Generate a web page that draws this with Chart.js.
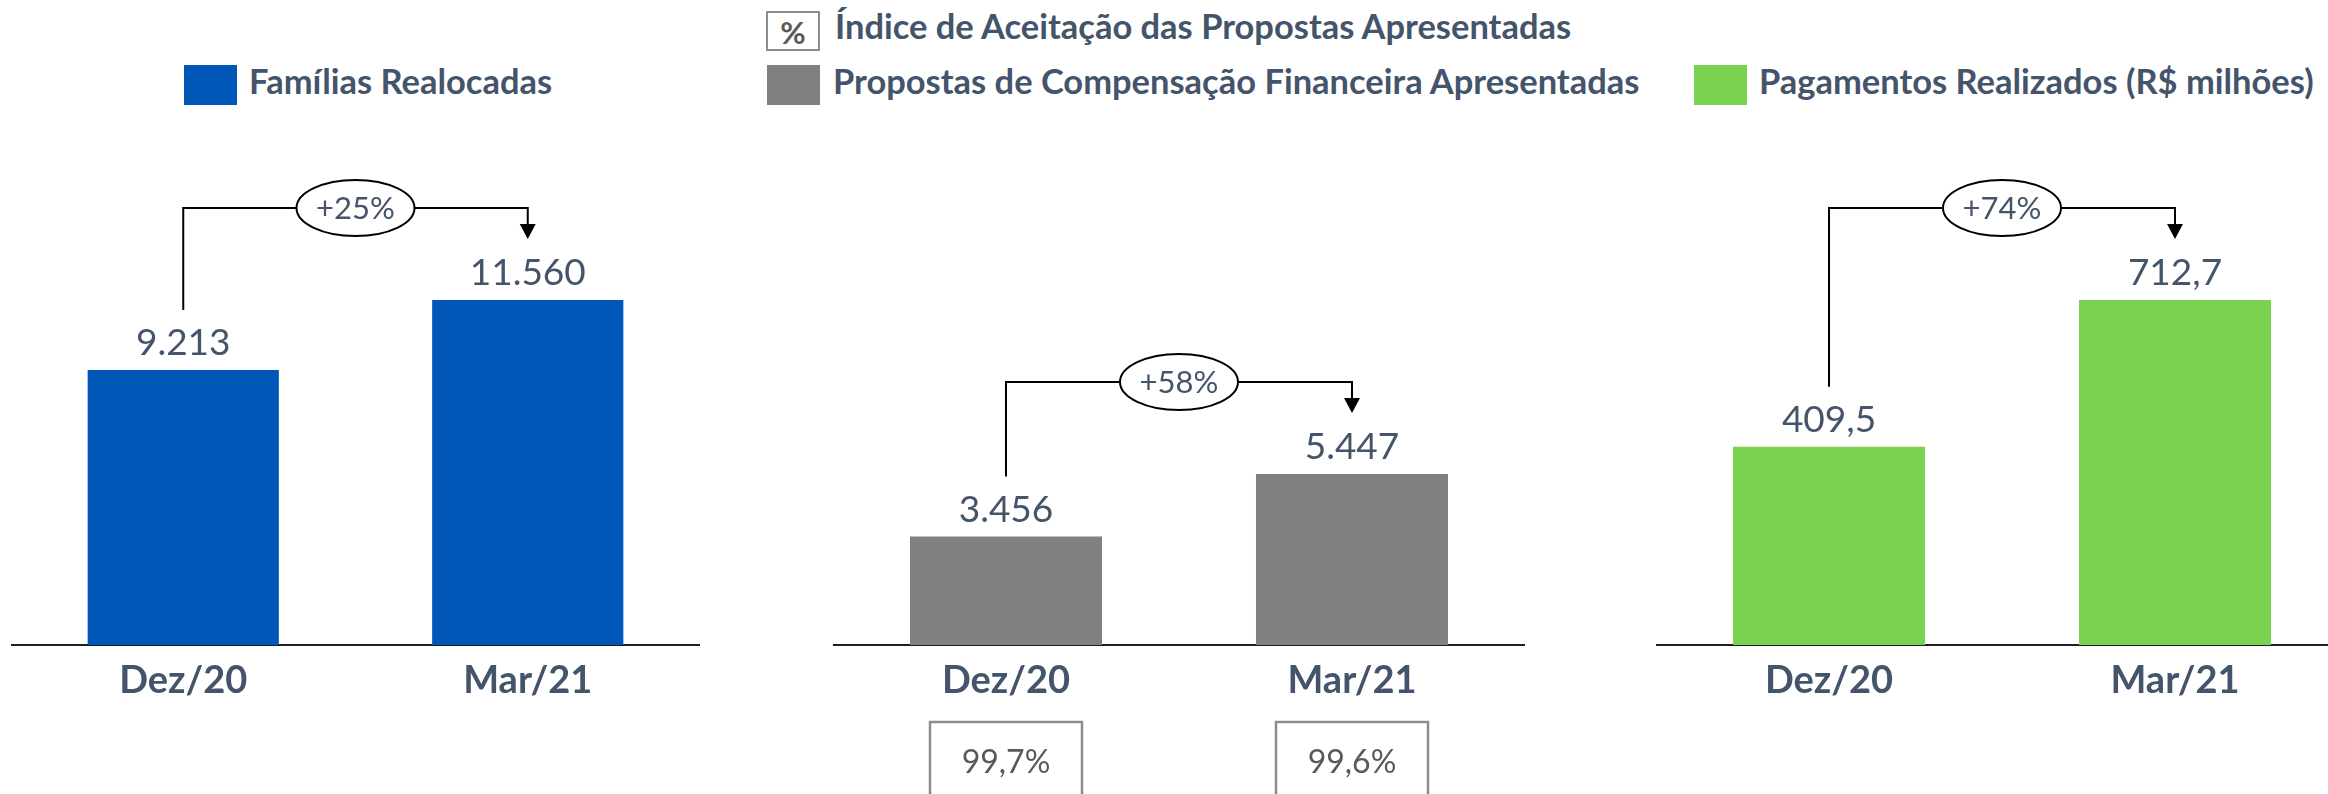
<!DOCTYPE html>
<html><head><meta charset="utf-8">
<script src="https://cdn.jsdelivr.net/npm/chart.js@4.4.1/dist/chart.umd.min.js"></script>
<style>
html,body{margin:0;padding:0;background:#fff;width:2328px;height:794px;overflow:hidden;position:relative;font-family:Lato,sans-serif;}
canvas{position:absolute;top:0;}
.sw{position:absolute;}
.lg{position:absolute;white-space:nowrap;font-weight:700;color:#44546A;line-height:1.2;font-family:Lato,sans-serif;}
.pct{position:absolute;left:766px;top:11px;width:50px;height:36px;border:2px solid #8c8c8c;color:#595959;font:700 31px Lato,sans-serif;text-align:center;line-height:38px;}
</style></head><body>
<div class="pct">%</div>
<div class="sw" style="left:184px;top:65px;width:53px;height:40px;background:#0057B8"></div>
<div class="sw" style="left:767px;top:65px;width:53px;height:40px;background:#808080"></div>
<div class="sw" style="left:1694px;top:65px;width:53px;height:40px;background:#79D351"></div>
<div class="lg" id="lgIdx">Índice de Aceitação das Propostas Apresentadas</div>
<div class="lg" id="lgFam">Famílias Realocadas</div>
<div class="lg" id="lgProp">Propostas de Compensação Financeira Apresentadas</div>
<div class="lg" id="lgPag">Pagamentos Realizados (R$ milhões)</div>
<canvas id="c1" width="689" height="794" style="left:11px;width:689px;height:794px"></canvas>
<canvas id="c2" width="692" height="794" style="left:833px;width:692px;height:794px"></canvas>
<canvas id="c3" width="692" height="794" style="left:1656px;width:692px;height:794px"></canvas>
<script>
// ---- data ----
const categories = ['Dez/20', 'Mar/21'];
const familiasRealocadas = [9213, 11560];
const propostasApresentadas = [3456, 5447];
const pagamentosRealizados = [409.5, 712.7];
const indiceAceitacao = [99.7, 99.6];
const crescimento = ['+25%', '+58%', '+74%'];

function fmtBR(v, dec) {
  const parts = v.toFixed(dec).split('.');
  parts[0] = parts[0].replace(/\B(?=(\d{3})+(?!\d))/g, '.');
  return parts.join(',');
}

const TEXT = '#44546A';

const bracketPlugin = {
  id: 'bracket',
  afterDatasetsDraw(chart, args, opts) {
    const ctx = chart.ctx;
    const meta = chart.getDatasetMeta(0);
    const vals = chart.data.datasets[0].data;
    const b1 = meta.data[0], b2 = meta.data[1];
    ctx.save();
    ctx.fillStyle = TEXT;
    ctx.font = '400 37px Lato';
    ctx.textAlign = 'center';
    ctx.textBaseline = 'alphabetic';
    meta.data.forEach((bar, i) => ctx.fillText(fmtBR(vals[i], opts.dec), bar.x, bar.y - 15));
    const lineY = Math.min(b1.y, b2.y) - 92;
    const x1 = b1.x, x2 = b2.x;
    const tipY = b2.y - 61;
    ctx.strokeStyle = '#000';
    ctx.lineWidth = 2;
    ctx.beginPath();
    ctx.moveTo(x1, b1.y - 60);
    ctx.lineTo(x1, lineY);
    ctx.lineTo(x2, lineY);
    ctx.lineTo(x2, tipY - 12);
    ctx.stroke();
    ctx.fillStyle = '#000';
    ctx.beginPath();
    ctx.moveTo(x2 - 8, tipY - 15);
    ctx.lineTo(x2 + 8, tipY - 15);
    ctx.lineTo(x2, tipY);
    ctx.closePath();
    ctx.fill();
    const cx = (x1 + x2) / 2;
    ctx.beginPath();
    ctx.ellipse(cx, lineY, 59, 28, 0, 0, Math.PI * 2);
    ctx.fillStyle = '#fff';
    ctx.fill();
    ctx.stroke();
    ctx.fillStyle = TEXT;
    ctx.font = '400 31px Lato';
    ctx.fillText(opts.growth, cx, lineY + 11.5);
    ctx.restore();
  }
};

const boxPlugin = {
  id: 'pctBoxes',
  afterDraw(chart, args, opts) {
    if (!opts.values) return;
    const ctx = chart.ctx;
    const meta = chart.getDatasetMeta(0);
    ctx.save();
    ctx.strokeStyle = '#8c8c8c';
    ctx.lineWidth = 2.5;
    ctx.fillStyle = '#595959';
    ctx.font = '400 32px Lato';
    ctx.textAlign = 'center';
    ctx.textBaseline = 'alphabetic';
    meta.data.forEach((bar, i) => {
      ctx.strokeRect(bar.x - 76, 722, 152, 110);
      ctx.fillText(fmtBR(opts.values[i], 1) + '%', bar.x, 773);
    });
    ctx.restore();
  }
};

function makeChart(id, values, color, yMax, growth, dec, boxValues) {
  return new Chart(document.getElementById(id), {
    type: 'bar',
    data: {
      labels: categories,
      datasets: [{ data: values, backgroundColor: color, borderWidth: 0, categoryPercentage: 1, barPercentage: 0.555 }]
    },
    options: {
      responsive: false,
      animation: false,
      events: [],
      layout: { padding: 0 },
      plugins: {
        legend: { display: false },
        tooltip: { enabled: false },
        bracket: { growth: growth, dec: dec },
        pctBoxes: { values: boxValues }
      },
      scales: {
        x: {
          offset: true,
          grid: { display: true, drawOnChartArea: false, drawTicks: false, color: 'rgba(0,0,0,0)' },
          border: { display: true, color: '#1f1f1f', width: 2 },
          ticks: { color: TEXT, font: { family: 'Lato', size: 38, weight: 'bold' }, padding: 13, maxRotation: 0, autoSkip: false },
          afterFit: (s) => { s.height = 149; }
        },
        y: { display: false, min: 0, max: yMax }
      }
    },
    plugins: [bracketPlugin, boxPlugin]
  });
}

function placeLegend() {
  const c = document.createElement('canvas').getContext('2d');
  c.font = '700 100px Lato';
  const ref = document.getElementById('lgProp');
  const size = 100 * 808 / c.measureText(ref.textContent).width;
  const items = [
    ['lgIdx', 835, 39],
    ['lgFam', 249, 94],
    ['lgProp', 833, 94],
    ['lgPag', 1759, 94]
  ];
  items.forEach(([id, left, base]) => {
    const el = document.getElementById(id);
    el.style.fontSize = size + 'px';
    el.style.left = left + 'px';
    el.style.top = (base - 0.987 * size) + 'px';
  });
}

function init() {
  Chart.defaults.font.family = 'Lato';
  placeLegend();
  makeChart('c1', familiasRealocadas, '#0057B8', 21612, crescimento[0], 0, null);
  makeChart('c2', propostasApresentadas, '#808080', 20545, crescimento[1], 0, indiceAceitacao);
  makeChart('c3', pagamentosRealizados, '#79D351', 1332.4, crescimento[2], 1, null);
}

if (document.fonts && document.fonts.load) {
  Promise.all([document.fonts.load('700 38px Lato'), document.fonts.load('400 36px Lato')]).then(init, init);
} else { init(); }
</script>
</body></html>
